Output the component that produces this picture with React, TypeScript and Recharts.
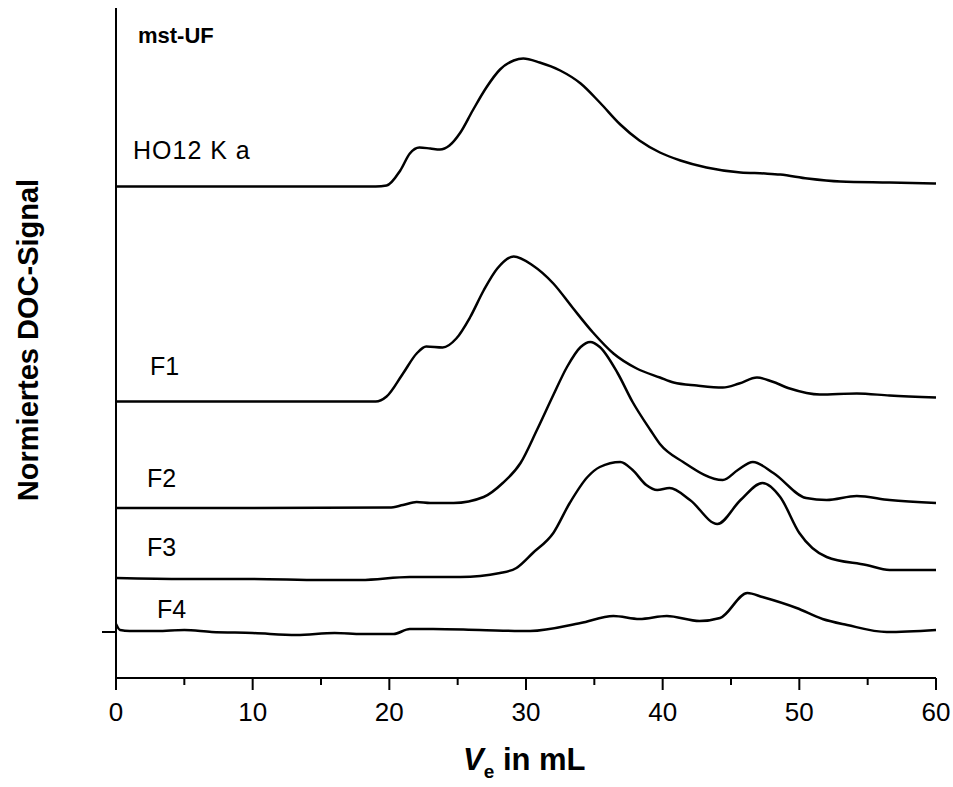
import React from "react";
import { LineChart, Line, XAxis, YAxis } from "recharts";

// elution volume (mL) and normalised DOC signal
const HO12_VE = [0, 5, 10, 15, 19, 19.8, 20.8, 21.5, 22.2, 23, 23.7, 24.4, 25.2, 26.1, 27.1, 28.1, 29.1, 29.8, 31, 32.5, 34, 35.4, 36.9, 38.3, 39.8, 41.3, 43.2, 45.7, 47.5, 48.6, 50.6, 53, 56.6, 60];
const HO12_SIG = [0, 0, 0, 0, 0, 0.01, 0.16, 0.33, 0.39, 0.38, 0.37, 0.41, 0.54, 0.76, 0.99, 1.17, 1.26, 1.28, 1.24, 1.16, 1.03, 0.84, 0.62, 0.46, 0.34, 0.26, 0.19, 0.14, 0.13, 0.12, 0.08, 0.05, 0.04, 0.03];

const F1_VE = [0, 10, 19, 19.8, 21, 22, 22.7, 23.9, 24.9, 25.9, 26.9, 27.9, 29.1, 30.5, 32, 33.4, 34.9, 36.4, 38.1, 39.8, 40.8, 42.5, 44.4, 45.6, 46.9, 48, 49.3, 51.5, 54.2, 56.6, 60];
const F1_SIG = [0, 0, 0, 0.05, 0.28, 0.48, 0.55, 0.54, 0.63, 0.84, 1.11, 1.33, 1.45, 1.36, 1.18, 0.94, 0.69, 0.48, 0.33, 0.24, 0.19, 0.16, 0.14, 0.18, 0.24, 0.2, 0.13, 0.07, 0.08, 0.06, 0.04];

const F2_VE = [0, 10, 20, 21, 22, 23, 24.7, 26.9, 28.3, 29.6, 30.8, 32, 33, 34, 34.7, 35.4, 36.7, 37.8, 39.1, 39.8, 41.5, 44.4, 45.5, 46.6, 48.1, 50.5, 52, 54.2, 56.6, 60];
const F2_SIG = [0, 0, 0.005, 0.03, 0.06, 0.05, 0.05, 0.11, 0.25, 0.45, 0.78, 1.13, 1.41, 1.61, 1.66, 1.61, 1.35, 1.06, 0.78, 0.64, 0.46, 0.28, 0.38, 0.46, 0.35, 0.1, 0.08, 0.12, 0.08, 0.05];

const F3_VE = [0, 5, 10, 15, 17.9, 21.5, 25.2, 28.1, 29.3, 30.5, 32, 33.2, 34.5, 35.4, 36.9, 37.8, 38.8, 39.6, 40.5, 42, 44, 45.7, 47.3, 48.6, 50, 52, 54.9, 56.6, 60];
const F3_SIG = [0, -0.01, -0.01, -0.02, -0.02, 0.01, 0.01, 0.05, 0.1, 0.25, 0.45, 0.75, 1.01, 1.11, 1.16, 1.08, 0.93, 0.88, 0.9, 0.78, 0.54, 0.78, 0.95, 0.81, 0.45, 0.21, 0.13, 0.08, 0.08];

const F4_VE = [0, 0.3, 1, 3, 5, 7, 10, 13.2, 16, 18, 20.3, 21.5, 23.2, 26.6, 30.3, 34, 36.4, 38.3, 40.3, 42.7, 44.2, 46.2, 47.3, 49.8, 51.7, 53.5, 56.4, 60];
const F4_SIG = [0.08, 0.02, 0.01, 0.01, 0.02, 0, -0.01, -0.03, -0.01, -0.02, -0.02, 0.03, 0.03, 0.02, 0.01, 0.09, 0.16, 0.13, 0.16, 0.11, 0.14, 0.39, 0.35, 0.24, 0.13, 0.07, 0, 0.02];

// vertical stacking offsets
const NAMES = ["HO12 K a", "F1", "F2", "F3", "F4"];
const OFFSETS = [4.455, 2.305, 1.24, 0.54, 0];
const X_TICKS = [0, 5, 10, 15, 20, 25, 30, 35, 40, 45, 50, 55, 60];

const raw = [
  [HO12_VE, HO12_SIG],
  [F1_VE, F1_SIG],
  [F2_VE, F2_SIG],
  [F3_VE, F3_SIG],
  [F4_VE, F4_SIG],
];

const series = raw.map(([ve, sig], i) => ({
  name: NAMES[i],
  data: ve.map((v, j) => ({ ve: v, y: sig[j] + OFFSETS[i] })),
}));

const FONT = "'Liberation Sans', Arial, sans-serif";

const renderXTick = (props: any) => {
  const { x, y, payload } = props;
  const major = payload.value % 10 === 0;
  return (
    <g>
      <line x1={x} x2={x} y1={y} y2={y + (major ? 12 : 7)} stroke="#000" strokeWidth={2} />
      {major && (
        <text x={x} y={y + 43} textAnchor="middle" fontSize={26} fontFamily={FONT} fill="#000">
          {payload.value}
        </text>
      )}
    </g>
  );
};

const renderXTitle = () => (
  <text x={463} y={770} fontSize={31} fontWeight="bold" fontFamily={FONT} fill="#000">
    <tspan fontStyle="italic">V</tspan>
    <tspan fontSize={19} dy={8}>e</tspan>
    <tspan dy={-8}> in mL</tspan>
  </text>
);

const renderYTitle = () => (
  <text
    x={28}
    y={340}
    transform="rotate(-90 28 340)"
    textAnchor="middle"
    dominantBaseline="central"
    fontSize={29}
    fontWeight="bold"
    fontFamily={FONT}
    fill="#000"
  >
    Normiertes DOC-Signal
  </text>
);

const labelStyle = (left: number, top: number, size = 25, bold = false, spacing = 0): React.CSSProperties => ({
  position: "absolute",
  left,
  top,
  fontSize: size,
  lineHeight: 1,
  fontFamily: FONT,
  fontWeight: bold ? "bold" : "normal",
  letterSpacing: spacing,
  color: "#000",
  whiteSpace: "nowrap",
});

export default function App() {
  return (
    <div style={{ position: "absolute", left: 0, top: 0, width: 953, height: 787, background: "#fff" }}>
      <LineChart width={953} height={787} margin={{ top: 8, right: 17, left: 96, bottom: 49 }}>
        <XAxis
          type="number"
          dataKey="ve"
          domain={[0, 60]}
          ticks={X_TICKS}
          interval={0}
          allowDuplicatedCategory={false}
          axisLine={{ stroke: "#000", strokeWidth: 2 }}
          tickLine={false}
          tickSize={0}
          tickMargin={0}
          tick={renderXTick}
          height={60}
          label={{ content: renderXTitle }}
        />
        <YAxis
          type="number"
          domain={[-0.46, 6.24]}
          ticks={[0]}
          width={20}
          axisLine={{ stroke: "#000", strokeWidth: 2 }}
          tickLine={{ stroke: "#000", strokeWidth: 2 }}
          tickSize={14}
          tickFormatter={() => ""}
          label={{ content: renderYTitle }}
        />
        {series.map((s) => (
          <Line
            key={s.name}
            data={s.data}
            dataKey="y"
            name={s.name}
            type="monotone"
            stroke="#000"
            strokeWidth={2.5}
            dot={false}
            activeDot={false}
            isAnimationActive={false}
          />
        ))}
      </LineChart>
      <div style={labelStyle(138, 25, 22, true)}>mst-UF</div>
      <div style={labelStyle(133, 138, 25, false, 1)}>HO12 K a</div>
      <div style={labelStyle(150, 354)}>F1</div>
      <div style={labelStyle(147, 466)}>F2</div>
      <div style={labelStyle(147, 535)}>F3</div>
      <div style={labelStyle(157, 597)}>F4</div>
    </div>
  );
}
